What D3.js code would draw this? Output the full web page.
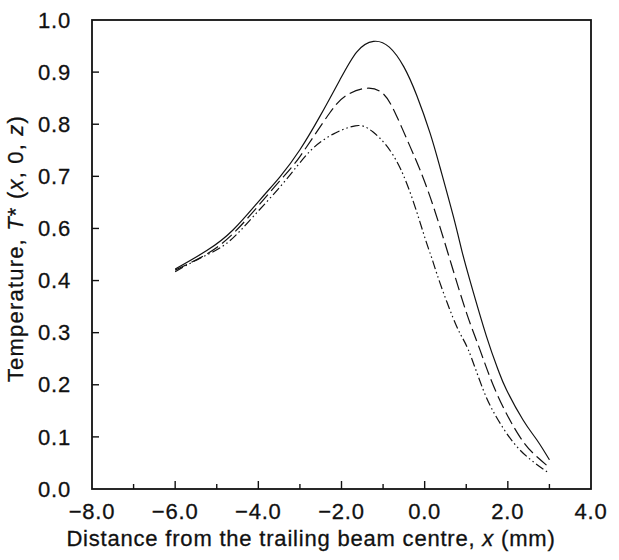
<!DOCTYPE html>
<html>
<head>
<meta charset="utf-8">
<script src="https://cdn.jsdelivr.net/npm/d3@7"></script>
<style>
  body { margin: 0; background: #fff; }
  svg { font-family: "Liberation Sans", Arial, sans-serif; }
  .tick-label, .axis-title { font-size: 22px; fill: #111; letter-spacing: 0.8px; stroke: #111; stroke-width: 0.3px; }
</style>
</head>
<body>
<svg></svg>
<script>
// x positions (mm) and T* values
const solidX = [-6.0, -5.24, -4.61, -3.96, -3.48, -3.0, -2.52, -2.04, -1.63, -1.23, -0.85, -0.50, -0.19, 0.13, 0.37, 0.69, 0.89, 1.09, 1.49, 1.77, 1.97, 2.37, 2.70, 3.0];
const solidY = [0.444, 0.515, 0.594, 0.655, 0.699, 0.751, 0.815, 0.885, 0.939, 0.959, 0.948, 0.910, 0.855, 0.783, 0.717, 0.623, 0.517, 0.400, 0.292, 0.228, 0.190, 0.132, 0.094, 0.056];

const dashX = [-6.0, -5.0, -4.2, -3.5, -3.0, -2.28, -1.85, -1.40, -0.99, -0.67, -0.35, -0.11, 0.21, 0.61, 1.01, 1.33, 1.73, 2.29, 2.70, 3.0];
const dashY = [0.440, 0.527, 0.625, 0.690, 0.738, 0.822, 0.857, 0.869, 0.858, 0.815, 0.757, 0.712, 0.642, 0.479, 0.337, 0.267, 0.184, 0.100, 0.062, 0.041];

const dotX = [-6.0, -5.40, -4.76, -4.12, -3.40, -2.76, -2.20, -1.67, -1.24, -0.59, -0.03, 0.17, 0.37, 0.77, 1.05, 1.41, 1.77, 2.29, 3.0];
const dotY = [0.434, 0.486, 0.543, 0.623, 0.687, 0.748, 0.781, 0.797, 0.785, 0.716, 0.582, 0.487, 0.395, 0.312, 0.267, 0.190, 0.132, 0.075, 0.030];

const xMajor = [-8, -6, -4, -2, 0, 2, 4];
const xMinor = [-7, -5, -3, -1, 1, 3];
const xLabels = ["\u22128.0", "\u22126.0", "\u22124.0", "\u22122.0", "0.0", "2.0", "4.0"];
// the printed axis skips 0.5: ten labels on nine equal steps
const yTicks = [0.0, 0.1, 0.2, 0.3, 0.4, 0.6, 0.7, 0.8, 0.9, 1.0];
const yLabels = ["0.0", "0.1", "0.2", "0.3", "0.4", "0.6", "0.7", "0.8", "0.9", "1.0"];

const margin = { top: 20, right: 28, bottom: 71, left: 92 },
      width = 619 - margin.left - margin.right,
      height = 560 - margin.top - margin.bottom;

const svg = d3.select("svg")
    .attr("width", 619)
    .attr("height", 560);

const g = svg.append("g")
    .attr("transform", `translate(${margin.left},${margin.top})`);

const x = d3.scaleLinear().domain([-8, 4]).range([0, width]);

// piecewise scale so every printed label sits on an equal step
const y = d3.scaleLinear()
    .domain(yTicks)
    .range(yTicks.map((d, i) => height - i * height / (yTicks.length - 1)));

// ticks (inward)
g.append("g").selectAll("line")
    .data(xMajor.slice(1, -1))
    .enter().append("line")
    .attr("x1", d => x(d)).attr("x2", d => x(d))
    .attr("y1", height).attr("y2", height - 8)
    .attr("stroke", "#111").attr("stroke-width", 1.4);

g.append("g").selectAll("line")
    .data(xMinor)
    .enter().append("line")
    .attr("x1", d => x(d)).attr("x2", d => x(d))
    .attr("y1", height).attr("y2", height - 5)
    .attr("stroke", "#111").attr("stroke-width", 1.4);

g.append("g").selectAll("line")
    .data(yTicks.slice(1, -1))
    .enter().append("line")
    .attr("x1", 0).attr("x2", 7)
    .attr("y1", d => y(d)).attr("y2", d => y(d))
    .attr("stroke", "#111").attr("stroke-width", 1.4);

// frame
g.append("rect")
    .attr("width", width).attr("height", height)
    .attr("fill", "none").attr("stroke", "#111").attr("stroke-width", 1.8);

// tick labels
g.append("g").selectAll("text")
    .data(xMajor)
    .enter().append("text")
    .attr("class", "tick-label")
    .attr("x", d => x(d))
    .attr("y", height + 30)
    .attr("text-anchor", "middle")
    .text((d, i) => xLabels[i]);

g.append("g").selectAll("text")
    .data(yTicks)
    .enter().append("text")
    .attr("class", "tick-label")
    .attr("x", -21)
    .attr("y", d => y(d))
    .attr("dy", "0.35em")
    .attr("text-anchor", "end")
    .text((d, i) => yLabels[i]);

// axis titles
const xt = g.append("text")
    .attr("class", "axis-title")
    .attr("x", 311 - margin.left)
    .attr("y", height + 57)
    .attr("text-anchor", "middle");
xt.append("tspan").text("Distance from the trailing beam centre, ");
xt.append("tspan").attr("font-style", "italic").text("x");
xt.append("tspan").text(" (mm)");

const yt = g.append("text")
    .attr("class", "axis-title")
    .style("letter-spacing", "1.2px")
    .attr("transform", `translate(${-69},${height / 2 - 6}) rotate(-90)`)
    .attr("text-anchor", "middle");
yt.append("tspan").text("Temperature, ");
yt.append("tspan").attr("font-style", "italic").text("T");
yt.append("tspan").text("* (");
yt.append("tspan").attr("font-style", "italic").text("x");
yt.append("tspan").text(", 0, ");
yt.append("tspan").attr("font-style", "italic").text("z");
yt.append("tspan").text(")");

// curves
const line = d3.line()
    .x(d => x(d[0]))
    .y(d => y(d[1]))
    .curve(d3.curveNatural);

const series = [
    { xs: solidX, ys: solidY, dash: null },
    { xs: dashX, ys: dashY, dash: "13,5" },
    { xs: dotX, ys: dotY, dash: "9,3,1.5,3,1.5,3" }
];

g.append("g").selectAll("path")
    .data(series)
    .enter().append("path")
    .attr("d", s => line(s.xs.map((v, i) => [v, s.ys[i]])))
    .attr("fill", "none")
    .attr("stroke", "#111")
    .attr("stroke-width", 1.2)
    .attr("stroke-dasharray", s => s.dash);
</script>
</body>
</html>
